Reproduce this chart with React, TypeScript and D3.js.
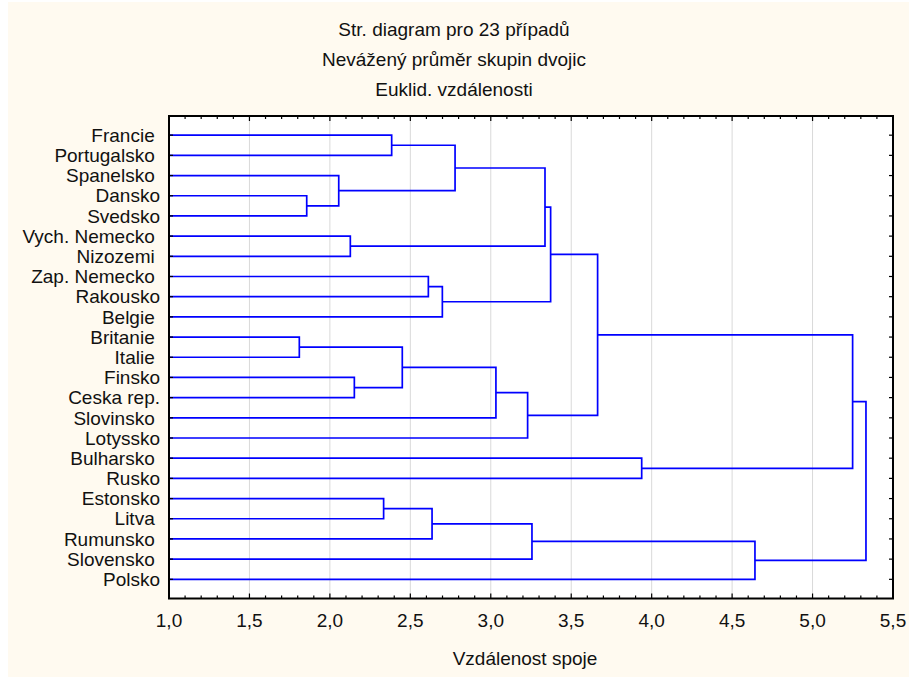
import React from "react";
import * as d3 from "d3";

// ---- data ----
const leafNames: string[] = [
  "Francie ", "Portugalsko ", "Spanelsko ", "Dansko", "Svedsko",
  "Vych. Nemecko ", "Nizozemi ", "Zap. Nemecko ", "Rakousko", "Belgie ",
  "Britanie ", "Italie ", "Finsko", "Ceska rep.", "Slovinsko ",
  "Lotyssko", "Bulharsko ", "Rusko", "Estonsko", "Litva ",
  "Rumunsko ", "Slovensko ", "Polsko",
];

// merges: clusters numbered from 23 upwards (scipy-like linkage)
const mergeA: number[] = [3, 10, 2, 5, 12, 18, 0, 24, 7, 28, 31, 29, 30, 35, 32, 34, 38, 39, 16, 37, 40, 43];
const mergeB: number[] = [4, 11, 23, 6, 13, 19, 1, 27, 8, 20, 9, 25, 14, 15, 21, 26, 33, 36, 17, 22, 41, 42];
const mergeDist: number[] = [1.856, 1.81, 2.055, 2.127, 2.152, 2.334, 2.384, 2.45, 2.612, 2.635, 2.699, 2.778, 3.032, 3.229, 3.256, 3.337, 3.372, 3.664, 3.938, 4.642, 5.249, 5.332];

const titleLines: string[] = ["Str. diagram pro 23 případů", "Nevážený průměr skupin dvojic", "Euklid. vzdálenosti"];
const xTitle = "Vzdálenost spoje";
const xDomain: [number, number] = [1.0, 5.5];

const W = 909;
const H = 677;
const FONT = "'Liberation Sans', Arial, sans-serif";
const FS = 19;

export default function App() {
  const left = 169, right = 893, top = 116, bottom = 598.5;
  const x = d3.scaleLinear().domain(xDomain).range([left, right]);
  const y = d3.scalePoint<number>().domain(d3.range(leafNames.length)).range([top, bottom]).padding(0.95);

  const locale = d3.formatLocale({ decimal: ",", thousands: " ", grouping: [3], currency: ["", ""] });
  const fmt = locale.format(".1f");

  const n = leafNames.length;
  const posX: number[] = [];
  const posY: number[] = [];
  for (let i = 0; i < n; i++) {
    posX[i] = x.range()[0];
    posY[i] = y(i) as number;
  }
  const paths: string[] = [];
  mergeA.forEach((a, k) => {
    const b = mergeB[k];
    const id = n + k;
    const hx = x(mergeDist[k]);
    paths.push(`M${posX[a]},${posY[a]}H${hx}V${posY[b]}H${posX[b]}`);
    posX[id] = hx;
    posY[id] = (posY[a] + posY[b]) / 2;
  });

  const major = x.ticks(9);
  const minor = x.ticks(45);

  return (
    <svg width={W} height={H} style={{ position: "absolute", left: 0, top: 0, display: "block" }}>
      <rect x={0} y={0} width={W} height={H} fill="#ffffff" />
      <rect x={8} y={2} width={W - 8} height={H - 2} fill="#fffaf0" />
      {titleLines.map((t, i) => (
        <text key={i} x={454} y={36 + i * 30} textAnchor="middle" fontFamily={FONT} fontSize={FS} fill="#111">
          {t}
        </text>
      ))}
      <rect x={left} y={top} width={right - left} height={bottom - top} fill="#ffffff" />
      {major.filter((v) => v > xDomain[0] && v < xDomain[1]).map((v) => (
        <line key={"g" + v} x1={x(v)} x2={x(v)} y1={top} y2={bottom} stroke="#d9d9d9" strokeWidth={1} />
      ))}
      {paths.map((d, i) => (
        <path key={i} d={d} fill="none" stroke="#0000ff" strokeWidth={1.7} />
      ))}
      {/* ticks */}
      {minor.map((v) => {
        const isMajor = major.some((m) => Math.abs(m - v) < 1e-9);
        const len = isMajor ? 5 : 3;
        return (
          <g key={"t" + v}>
            <line x1={x(v)} x2={x(v)} y1={top} y2={top + len} stroke="#000" strokeWidth={1.2} />
            <line x1={x(v)} x2={x(v)} y1={bottom} y2={bottom - len} stroke="#000" strokeWidth={1.2} />
          </g>
        );
      })}
      {leafNames.map((_, i) => (
        <g key={"r" + i}>
          <line x1={left} x2={left + 4} y1={y(i)} y2={y(i)} stroke="#000" strokeWidth={1.2} />
          <line x1={right} x2={right - 4} y1={y(i)} y2={y(i)} stroke="#000" strokeWidth={1.2} />
        </g>
      ))}
      <rect x={left} y={top} width={right - left} height={bottom - top} fill="none" stroke="#000" strokeWidth={2} />
      {/* leaf labels */}
      {leafNames.map((name, i) => (
        <text key={"l" + i} x={160} y={(y(i) as number) + 6.7} textAnchor="end" fontFamily={FONT} fontSize={FS}
          fill="#111" style={{ whiteSpace: "pre" }}>
          {name}
        </text>
      ))}
      {/* x tick labels */}
      {major.map((v) => (
        <text key={"xl" + v} x={x(v)} y={627} textAnchor="middle" fontFamily={FONT} fontSize={FS} fill="#111">
          {fmt(v)}
        </text>
      ))}
      <text x={(left + right) / 2 - 6} y={665} textAnchor="middle" fontFamily={FONT} fontSize={FS} fill="#111">
        {xTitle}
      </text>
    </svg>
  );
}
